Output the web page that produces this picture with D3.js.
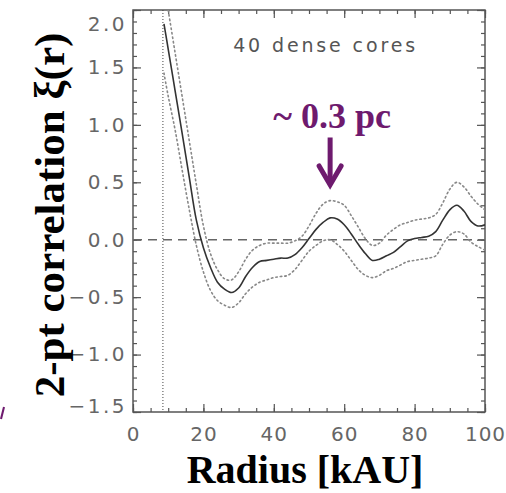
<!DOCTYPE html>
<html>
<head>
<meta charset="utf-8">
<script src="https://cdn.jsdelivr.net/npm/d3@7"></script>
<style>
  body { margin: 0; background: #fff; }
  svg { display: block; }
</style>
</head>
<body>
<svg id="chart"></svg>
<script>
// radius grid (kAU) and the three curves
const radius = [8.8, 10, 12, 14, 16, 18, 20, 22, 24, 26, 28, 30, 32, 34, 36, 38, 40, 42, 44, 46, 48, 50,
  52, 54, 56, 58, 60, 62, 64, 66, 68, 70, 72, 74, 76, 78, 80, 82, 84, 86, 88, 90, 92, 94, 96, 98, 100];
const xiMean = [1.88, 1.66, 1.29, 0.92, 0.54, 0.17, -0.07, -0.24, -0.37, -0.43, -0.46, -0.42, -0.32, -0.24,
  -0.19, -0.18, -0.17, -0.16, -0.16, -0.13, -0.07, 0.01, 0.09, 0.15, 0.19, 0.18, 0.13, 0.05, -0.04, -0.12,
  -0.18, -0.17, -0.14, -0.11, -0.06, -0.01, 0.01, 0.02, 0.03, 0.07, 0.17, 0.26, 0.30, 0.25, 0.16, 0.12, 0.13];
const xiUpper = [2.23, 2.0, 1.62, 1.24, 0.86, 0.48, 0.12, -0.12, -0.26, -0.34, -0.35, -0.28, -0.17, -0.09,
  -0.05, -0.03, -0.03, -0.03, -0.03, -0.01, 0.03, 0.12, 0.23, 0.31, 0.34, 0.33, 0.30, 0.21, 0.11, 0.01,
  -0.05, -0.03, 0.04, 0.09, 0.13, 0.15, 0.17, 0.18, 0.19, 0.22, 0.32, 0.44, 0.50, 0.46, 0.38, 0.31, 0.26];
const xiLower = [1.45, 1.25, 0.95, 0.6, 0.26, -0.05, -0.28, -0.44, -0.53, -0.57, -0.59, -0.55, -0.47, -0.41,
  -0.37, -0.35, -0.33, -0.32, -0.31, -0.26, -0.18, -0.10, -0.05, -0.01, 0.00, -0.04, -0.10, -0.18, -0.26, -0.31,
  -0.33, -0.31, -0.27, -0.25, -0.22, -0.19, -0.18, -0.17, -0.16, -0.14, -0.04, 0.04, 0.07, 0.05, -0.02, -0.06, -0.09];

const xTicks = [0, 20, 40, 60, 80, 100];
const yTicks = [-1.5, -1.0, -0.5, 0.0, 0.5, 1.0, 1.5, 2.0];
const rMin = 8.5; // vertical dotted line
const note = { x: 54.3, y: 1.63, text: "40 dense cores" };
const peak = { x: 56, yText: 0.97, yTop: 0.89, yTip: 0.46, text: "~ 0.3 pc" };

const width = 506, height = 493;
const purple = "#6e1a6e";

const svg = d3.select("#chart").attr("width", width).attr("height", height);

const x = d3.scaleLinear().domain([0, 100]).range([133, 485]);
const y = d3.scaleLinear().domain([-1.5, 2.0]).range([412, 10]);

svg.append("defs").append("clipPath").attr("id", "clip")
  .append("rect")
  .attr("x", x(0)).attr("y", y(2.0))
  .attr("width", x(100) - x(0)).attr("height", y(-1.5) - y(2.0));

// minor ticks, all four sides
const minorX = d3.range(0, 101, 5);
const minorY = d3.range(-15, 21, 1).map(d => d / 10);
function tickAxis(axis, pos, values, size) {
  const g = svg.append("g").attr("transform", pos)
    .call(axis.tickValues(values).tickSize(-size).tickFormat(""));
  g.select(".domain").remove();
  g.selectAll("line").attr("stroke", "#555").attr("stroke-width", 1.2);
  return g;
}
tickAxis(d3.axisBottom(x), `translate(0,${y(-1.5)})`, minorX, 4);
tickAxis(d3.axisTop(x), `translate(0,${y(2.0)})`, minorX, 4);
tickAxis(d3.axisLeft(y), `translate(${x(0)},0)`, minorY, 4);
tickAxis(d3.axisRight(y), `translate(${x(100)},0)`, minorY, 4);
tickAxis(d3.axisTop(x), `translate(0,${y(2.0)})`, xTicks, 8);
tickAxis(d3.axisRight(y), `translate(${x(100)},0)`, yTicks, 8);

// labelled axes
const xAxis = svg.append("g").attr("transform", `translate(0,${y(-1.5)})`)
  .call(d3.axisBottom(x).tickValues(xTicks).tickSize(-8).tickPadding(15).tickFormat(d3.format("d")));
const yAxis = svg.append("g").attr("transform", `translate(${x(0)},0)`)
  .call(d3.axisLeft(y).tickValues(yTicks).tickSize(-8).tickPadding(6).tickFormat(d3.format(".1f")));
[xAxis, yAxis].forEach(g => {
  g.select(".domain").remove();
  g.selectAll("line").attr("stroke", "#555").attr("stroke-width", 1.2);
  g.selectAll("text")
    .attr("fill", "#666")
    .style("font-family", "'DejaVu Sans', sans-serif")
    .style("font-size", "20px");
});
yAxis.selectAll("text").style("letter-spacing", "2.5px");
xAxis.selectAll("text").style("letter-spacing", "1px");
// end labels sit inside the frame
yAxis.selectAll(".tick").filter(d => d === 2.0).select("text").attr("dy", "1.0em");
yAxis.selectAll(".tick").filter(d => d === -1.5).select("text").attr("dy", "0.0em");

// frame
svg.append("rect")
  .attr("x", x(0)).attr("y", y(2.0))
  .attr("width", x(100) - x(0)).attr("height", y(-1.5) - y(2.0))
  .attr("fill", "none").attr("stroke", "#555").attr("stroke-width", 1.5);

const plot = svg.append("g").attr("clip-path", "url(#clip)");

plot.append("line")
  .attr("x1", x(0)).attr("x2", x(100)).attr("y1", y(0)).attr("y2", y(0))
  .attr("stroke", "#666").attr("stroke-width", 1.6).attr("stroke-dasharray", "9,6");

plot.append("line")
  .attr("x1", x(rMin)).attr("x2", x(rMin)).attr("y1", y(2.0)).attr("y2", y(-1.5))
  .attr("stroke", "#444").attr("stroke-width", 1).attr("stroke-dasharray", "1,2");

const line = d3.line()
  .x((d, i) => x(radius[i]))
  .y(d => y(d))
  .curve(d3.curveCatmullRom);

[xiUpper, xiLower].forEach(s => {
  plot.append("path").attr("d", line(s))
    .attr("fill", "none").attr("stroke", "#888").attr("stroke-width", 1.6)
    .attr("stroke-dasharray", "1.5,3").attr("stroke-linecap", "round");
});
plot.append("path").attr("d", line(xiMean))
  .attr("fill", "none").attr("stroke", "#333").attr("stroke-width", 1.6);

svg.append("text")
  .attr("x", x(note.x)).attr("y", y(note.y))
  .attr("text-anchor", "middle")
  .attr("textLength", 182).attr("lengthAdjust", "spacing")
  .attr("fill", "#555")
  .style("font-family", "'DejaVu Sans', sans-serif")
  .style("font-size", "19px")
  .text(note.text);

// annotation
svg.append("text")
  .attr("x", x(peak.x) + 2).attr("y", y(peak.yText))
  .attr("text-anchor", "middle")
  .attr("fill", purple)
  .style("font-family", "'Liberation Serif', 'Times New Roman', serif")
  .style("font-weight", "bold")
  .style("font-size", "36px")
  .text(peak.text);
svg.append("line")
  .attr("x1", x(peak.x)).attr("x2", x(peak.x))
  .attr("y1", y(peak.yTop)).attr("y2", y(peak.yTip) - 4)
  .attr("stroke", purple).attr("stroke-width", 5);
svg.append("path")
  .attr("d", `M${x(peak.x) - 11},${y(peak.yTip) - 21}L${x(peak.x)},${y(peak.yTip) - 2}L${x(peak.x) + 11},${y(peak.yTip) - 21}`)
  .attr("fill", "none").attr("stroke", purple).attr("stroke-width", 5)
  .attr("stroke-linejoin", "miter").attr("stroke-linecap", "round");

// axis titles
svg.append("text")
  .attr("x", x(50) - 4).attr("y", 483)
  .attr("text-anchor", "middle")
  .attr("fill", "#000")
  .style("font-family", "'Liberation Serif', 'Times New Roman', serif")
  .style("font-weight", "bold")
  .style("font-size", "40px")
  .text("Radius [kAU]");
svg.append("text")
  .attr("transform", `translate(64,${215}) rotate(-90)`)
  .attr("text-anchor", "middle")
  .attr("fill", "#000")
  .style("font-family", "'Liberation Serif', 'Times New Roman', serif")
  .style("font-weight", "bold")
  .style("font-size", "43px")
  .text("2-pt correlation ξ(r)");

// stray mark at the slide edge
svg.append("line")
  .attr("x1", 4).attr("y1", 407).attr("x2", 1).attr("y2", 419)
  .attr("stroke", purple).attr("stroke-width", 2);
</script>
</body>
</html>
